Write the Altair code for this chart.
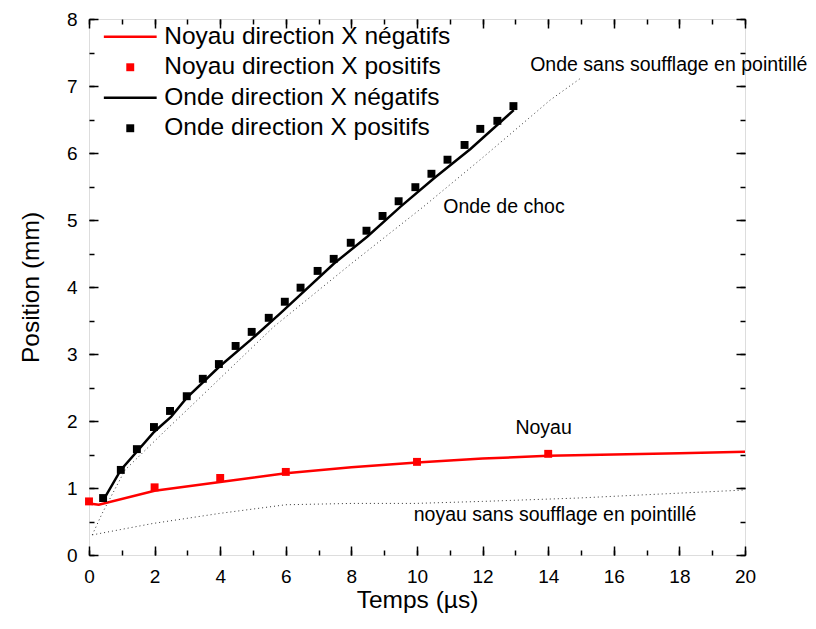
import altair as alt
import pandas as pd

FONT = "Liberation Sans"

# ---- data ----
noyau_neg_t = [0.0, 0.3, 2.0, 4.0, 6.0, 8.0, 10.0, 12.0, 14.0, 16.0, 18.0, 20.0]
noyau_neg_y = [0.77, 0.75, 0.96, 1.09, 1.22, 1.31, 1.38, 1.44, 1.48, 1.50, 1.52, 1.54]

noyau_pos_t = [0.0, 2.0, 4.0, 6.0, 10.0, 14.0]
noyau_pos_y = [0.80, 1.01, 1.15, 1.24, 1.39, 1.51]

onde_neg_t = [0.45, 0.97, 1.99, 2.5, 2.97, 3.97, 4.93, 5.84, 7.47, 8.48, 9.5, 10.51, 11.63, 12.95]
onde_neg_y = [0.83, 1.27, 1.84, 2.06, 2.34, 2.81, 3.21, 3.61, 4.35, 4.75, 5.20, 5.62, 6.06, 6.64]

onde_pos_t = [0.43, 0.97, 1.46, 1.98, 2.47, 2.98, 3.47, 3.96, 4.47, 4.96, 5.48, 5.97, 6.45,
              6.97, 7.46, 7.98, 8.46, 8.95, 9.44, 9.95, 10.44, 10.93, 11.45, 11.93, 12.45, 12.94]
onde_pos_y = [0.85, 1.27, 1.58, 1.91, 2.15, 2.37, 2.63, 2.85, 3.12, 3.33, 3.54, 3.78, 3.99,
              4.24, 4.42, 4.66, 4.84, 5.06, 5.28, 5.49, 5.69, 5.90, 6.12, 6.36, 6.48, 6.70]

onde_sans_t = [0.1, 0.4, 1.1, 2.25, 3.47, 5.64, 8.0, 10.2, 12.0, 14.06, 15.0]
onde_sans_y = [0.30, 0.62, 1.27, 1.82, 2.39, 3.41, 4.35, 5.20, 5.93, 6.79, 7.12]

noyau_sans_t = [0.1, 1.94, 3.97, 6.0, 8.03, 9.95, 12.0, 14.9, 17.0, 20.0]
noyau_sans_y = [0.30, 0.47, 0.62, 0.75, 0.77, 0.77, 0.80, 0.85, 0.90, 0.97]

series_names = ["Noyau direction X négatifs", "Noyau direction X positifs",
                "Onde direction X négatifs", "Onde direction X positifs"]
series_colors = ["#ff0000", "#ff0000", "#000000", "#000000"]

annot_text = ["Onde sans soufflage en pointillé", "Onde de choc", "Noyau",
              "noyau sans soufflage en pointillé"]
annot_t = [13.45, 10.8, 13.0, 9.9]
annot_y = [7.31, 5.19, 1.90, 0.60]

x_major = list(range(0, 21, 2))
x_minor = list(range(0, 21, 1))
y_major = list(range(0, 9))
y_minor = [i * 0.5 for i in range(0, 17)]

# ---- tables ----
df_noyau_neg = pd.DataFrame({"t": noyau_neg_t, "pos": noyau_neg_y})
df_onde_neg = pd.DataFrame({"t": onde_neg_t, "pos": onde_neg_y})
df_onde_sans = pd.DataFrame({"t": onde_sans_t, "pos": onde_sans_y})
df_noyau_sans = pd.DataFrame({"t": noyau_sans_t, "pos": noyau_sans_y})
df_points = pd.concat([
    pd.DataFrame({"t": noyau_pos_t, "pos": noyau_pos_y, "serie": series_names[1]}),
    pd.DataFrame({"t": onde_pos_t, "pos": onde_pos_y, "serie": series_names[3]}),
])
df_annot = pd.DataFrame({"t": annot_t, "pos": annot_y, "txt": annot_text})

xscale = alt.Scale(domain=[0, 20], nice=False, zero=False)
yscale = alt.Scale(domain=[0, 8], nice=False, zero=False)

LINE_PATH = "M-3,-0.13H3V0.13H-3Z"
SQ_PATH = "M-0.45,-0.45H0.45V0.45H-0.45Z"
SYM = 310

def tick_axis(orient, values, size, offset):
    return alt.Axis(orient=orient, values=values, tickSize=size, offset=offset,
                    labels=False, domain=False, grid=False, ticks=True,
                    tickColor="black", tickWidth=1.5, title=None)

# labels axes
lab_x = alt.Axis(orient="bottom", values=x_major, ticks=False, tickSize=0, domain=False,
                 grid=False, labelPadding=12, labelFontSize=19, labelFont=FONT,
                 labelFlush=False, labelOverlap=False,
                 labelColor="black", title="Temps (µs)", titleFontSize=24.5,
                 titleFont=FONT, titleFontWeight="normal", titlePadding=2,
                 titleColor="black")
lab_y = alt.Axis(orient="left", values=y_major, ticks=False, tickSize=0, domain=False,
                 grid=False, labelPadding=12, labelFontSize=19, labelFont=FONT,
                 labelFlush=False, labelOverlap=False,
                 labelColor="black", title="Position (mm)", titleFontSize=24.5,
                 titleFont=FONT, titleFontWeight="normal", titlePadding=23,
                 titleColor="black")

red_line = alt.Chart(df_noyau_neg).mark_line(color="#ff0000", strokeWidth=2.5).encode(
    x=alt.X("t:Q", scale=xscale, axis=lab_x),
    y=alt.Y("pos:Q", scale=yscale, axis=lab_y),
)

black_line = alt.Chart(df_onde_neg).mark_line(color="black", strokeWidth=2.5).encode(
    x=alt.X("t:Q", scale=xscale, axis=tick_axis("bottom", x_major, 9, -9)),
    y=alt.Y("pos:Q", scale=yscale, axis=tick_axis("left", y_major, 9, -9)),
)

dotted_up = alt.Chart(df_onde_sans).mark_line(color="#333333", strokeWidth=1,
                                                 strokeDash=[1, 3]).encode(
    x=alt.X("t:Q", scale=xscale, axis=tick_axis("bottom", x_minor, 5, -5)),
    y=alt.Y("pos:Q", scale=yscale, axis=tick_axis("left", y_minor, 5, -5)),
)

dotted_low = alt.Chart(df_noyau_sans).mark_line(color="#333333", strokeWidth=1,
                                                   strokeDash=[1, 3]).encode(
    x=alt.X("t:Q", scale=xscale, axis=tick_axis("top", x_major, 9, -9)),
    y=alt.Y("pos:Q", scale=yscale, axis=tick_axis("right", y_major, 9, -9)),
)

points = alt.Chart(df_points).mark_point(filled=True, size=SYM, opacity=1).encode(
    x=alt.X("t:Q", scale=xscale, axis=tick_axis("top", x_minor, 5, -5)),
    y=alt.Y("pos:Q", scale=yscale, axis=tick_axis("right", y_minor, 5, -5)),
    color=alt.Color("serie:N",
                    scale=alt.Scale(domain=series_names, range=series_colors),
                    legend=alt.Legend(orient="none", legendX=29, legendY=5.5,
                                      title=None, labelFontSize=24.5, labelFont=FONT,
                                      labelColor="black", symbolSize=SYM,
                                      symbolStrokeWidth=0, symbolOpacity=1,
                                      labelOffset=21.8, rowPadding=5.5, padding=0,
                                      labelLimit=600)),
    shape=alt.Shape("serie:N",
                    scale=alt.Scale(domain=series_names,
                                    range=[LINE_PATH, SQ_PATH, LINE_PATH, SQ_PATH])),
)

annots = alt.Chart(df_annot).mark_text(align="left", baseline="middle", fontSize=19.5,
                                       font=FONT, color="black").encode(
    x=alt.X("t:Q", scale=xscale, axis=None),
    y=alt.Y("pos:Q", scale=yscale, axis=None),
    text="txt:N",
)

chart = alt.layer(red_line, black_line, dotted_up, dotted_low, points, annots).resolve_axis(
    x="independent", y="independent"
).properties(
    width=656, height=536,
    autosize=alt.AutoSizeParams(type="none"),
    padding={"left": 81, "top": 11, "right": 63, "bottom": 60},
).configure_view(stroke="black", strokeWidth=2).configure(background="white")

chart.save("out.html", embed_options={"renderer": "svg", "actions": False})
